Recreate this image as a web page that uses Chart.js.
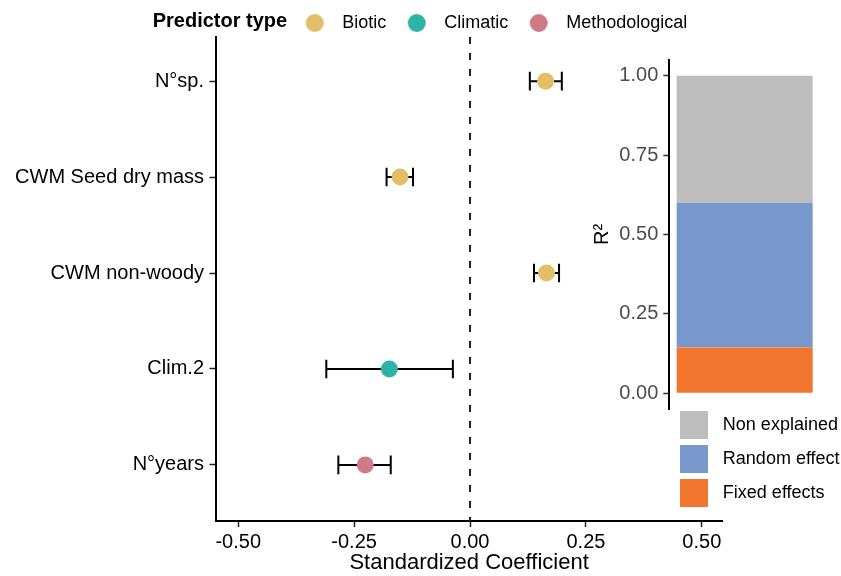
<!DOCTYPE html>
<html>
<head>
<meta charset="utf-8">
<script src="https://cdn.jsdelivr.net/npm/chart.js@4.4.1/dist/chart.umd.min.js"></script>
<style>
  body { margin: 0; background: #fff; }
  #wrap { position: relative; width: 841px; height: 576px; }
  #main { position: absolute; left: 0; top: 0; }
  #inset { position: absolute; left: 570px; top: 40px; }
</style>
</head>
<body>
<div id="wrap">
  <canvas id="main" width="841" height="576"></canvas>
  <canvas id="inset" width="271" height="500"></canvas>
</div>
<script>
// predictors (top to bottom)
const categories = ["N°sp.", "CWM Seed dry mass", "CWM non-woody", "Clim.2", "N°years"];
const predType = ["Biotic", "Biotic", "Biotic", "Climatic", "Methodological"];
const estimates = [0.163, -0.151, 0.165, -0.174, -0.226];
const lower = [0.129, -0.180, 0.138, -0.310, -0.284];
const upper = [0.198, -0.123, 0.192, -0.037, -0.171];
const xTicks = [-0.5, -0.25, 0, 0.25, 0.5];

const types = ["Biotic", "Climatic", "Methodological"];
const typeColors = ["#E2BF67", "#2EB3A7", "#CF7B86"];

// R2 inset (stacked bottom to top)
const r2Parts = ["Fixed effects", "Random effect", "Non explained"];
const r2Values = [0.144, 0.456, 0.400];
const r2Colors = ["#F2762E", "#7897CB", "#BDBDBD"];
const r2Ticks = [0, 0.25, 0.5, 0.75, 1];

Chart.defaults.font.family = '"Liberation Sans", Arial, sans-serif';
Chart.defaults.color = "#000";

const yMin = 0.54, yMax = 5.585;

// little legend glyphs
function swatch(color, shape, size) {
  const c = document.createElement("canvas");
  c.width = c.height = size;
  const g = c.getContext("2d");
  g.fillStyle = color;
  if (shape === "circle") {
    g.beginPath();
    g.arc(size / 2, size / 2, size / 2 - 1, 0, 2 * Math.PI);
    g.fill();
  } else {
    g.fillRect(0, 0, size, size);
  }
  return c;
}

// move legend box + draw inline legend title
const legendNudge = {
  id: "legendNudge",
  afterLayout(chart, args, opts) {
    const lg = chart.legend;
    lg.left += opts.dx || 0; lg.right += opts.dx || 0;
    lg.top += opts.dy || 0; lg.bottom += opts.dy || 0;
  },
  afterDraw(chart, args, opts) {
    if (!opts.title) return;
    const ctx = chart.ctx;
    ctx.save();
    ctx.font = 'bold 20px "Liberation Sans", Arial, sans-serif';
    ctx.fillStyle = "#000";
    ctx.textBaseline = "middle";
    ctx.fillText(opts.title, opts.titleX, opts.titleY);
    ctx.restore();
  }
};

const pointSets = types.map((t, k) => ({
  label: t,
  data: categories.map((c, i) => ({ x: estimates[i], y: i + 1, t: predType[i] })).filter(p => p.t === t),
  backgroundColor: typeColors[k],
  borderWidth: 0,
  pointBorderWidth: 0,
  pointRadius: 8.5,
  pointHoverRadius: 8.5
}));

const errorSets = categories.map((c, i) => ({
  label: c + " CI",
  type: "line",
  showLine: true,
  data: [{ x: lower[i], y: i + 1 }, { x: upper[i], y: i + 1 }],
  borderColor: "#000",
  borderWidth: 2,
  pointStyle: "line",
  pointRotation: 90,
  pointRadius: 9.3,
  pointHoverRadius: 9.3,
  pointBorderWidth: 2,
  pointBorderColor: "#000"
}));

const zeroLine = {
  label: "zero",
  type: "line",
  showLine: true,
  data: [{ x: 0, y: yMin }, { x: 0, y: yMax }],
  borderColor: "#222",
  borderWidth: 2,
  borderDash: [7, 9],
  pointRadius: 0
};

new Chart(document.getElementById("main"), {
  type: "scatter",
  data: { datasets: [...pointSets, ...errorSets, zeroLine] },
  plugins: [legendNudge],
  options: {
    responsive: false,
    animation: false,
    events: [],
    layout: { padding: { top: 2, right: 118.3, bottom: 0, left: 0 } },
    scales: {
      x: {
        type: "linear",
        min: -0.549,
        max: 0.545,
        afterBuildTicks: s => { s.ticks = xTicks.map(v => ({ value: v })); },
        afterFit: s => { s.height = 55; },
        ticks: { font: { size: 20 }, color: "#000", padding: 3, callback: v => v.toFixed(2) },
        grid: { drawOnChartArea: false, tickLength: 6, tickColor: "#222", tickWidth: 1.5 },
        border: { display: true, color: "#000", width: 2 },
        title: { display: true, text: "Standardized Coefficient", font: { size: 22 }, color: "#000", padding: { top: 0, bottom: 0 } }
      },
      y: {
        type: "linear",
        reverse: true,
        min: yMin,
        max: yMax,
        afterBuildTicks: s => { s.ticks = categories.map((c, i) => ({ value: i + 1 })); },
        afterFit: s => { s.width = 215.5; },
        ticks: { font: { size: 20 }, color: "#000", padding: 5.5, autoSkip: false, callback: v => categories[v - 1] },
        grid: { drawOnChartArea: false, tickLength: 6, tickColor: "#222", tickWidth: 1.5 },
        border: { display: true, color: "#000", width: 2 }
      }
    },
    plugins: {
      tooltip: { enabled: false },
      legend: {
        position: "top",
        align: "start",
        maxHeight: 35,
        labels: {
          font: { size: 18 },
          color: "#000",
          padding: 12,
          usePointStyle: true,
          pointStyleWidth: 37,
          generateLabels: () => types.map((t, k) => ({
            text: t,
            datasetIndex: k,
            fillStyle: typeColors[k],
            strokeStyle: typeColors[k],
            lineWidth: 0,
            pointStyle: swatch(typeColors[k], "circle", 20),
            hidden: false
          }))
        }
      },
      legendNudge: { dx: 284.2, title: "Predictor type", titleX: 152.7, titleY: 21 }
    }
  }
});

new Chart(document.getElementById("inset"), {
  type: "bar",
  data: {
    labels: ["R2"],
    datasets: r2Parts.map((p, k) => ({
      label: p,
      data: [r2Values[k]],
      backgroundColor: r2Colors[k],
      borderWidth: 0,
      categoryPercentage: 1,
      barPercentage: 0.9025
    }))
  },
  plugins: [legendNudge],
  options: {
    responsive: false,
    animation: false,
    events: [],
    layout: { padding: { top: 19.8, right: 21, bottom: 18.8, left: 0 } },
    scales: {
      x: { stacked: true, display: false },
      y: {
        stacked: true,
        min: -0.05,
        max: 1.05,
        afterBuildTicks: s => { s.ticks = r2Ticks.map(v => ({ value: v })); },
        afterFit: s => { s.width = 99.3; },
        ticks: { font: { size: 20 }, color: "#4D4D4D", padding: 5, callback: v => v.toFixed(2) },
        grid: { drawOnChartArea: false, tickLength: 6, tickColor: "#333", tickWidth: 1.5 },
        border: { display: true, color: "#000", width: 2 },
        title: { display: true, text: "R²", font: { size: 20 }, color: "#000", padding: { top: 20.5, bottom: 0 } }
      }
    },
    plugins: {
      tooltip: { enabled: false },
      legend: {
        position: "bottom",
        align: "start",
        reverse: true,
        labels: {
          font: { size: 18 },
          color: "#000",
          padding: 16,
          usePointStyle: true,
          pointStyleWidth: 39.7,
          generateLabels: chart => chart.data.datasets.map((d, k) => ({
            text: d.label,
            datasetIndex: k,
            fillStyle: d.backgroundColor,
            strokeStyle: d.backgroundColor,
            lineWidth: 0,
            pointStyle: swatch(d.backgroundColor, "square", 28),
            hidden: false
          }))
        }
      },
      legendNudge: { dx: 88.15, dy: -9.2 }
    }
  }
});
</script>
</body>
</html>
